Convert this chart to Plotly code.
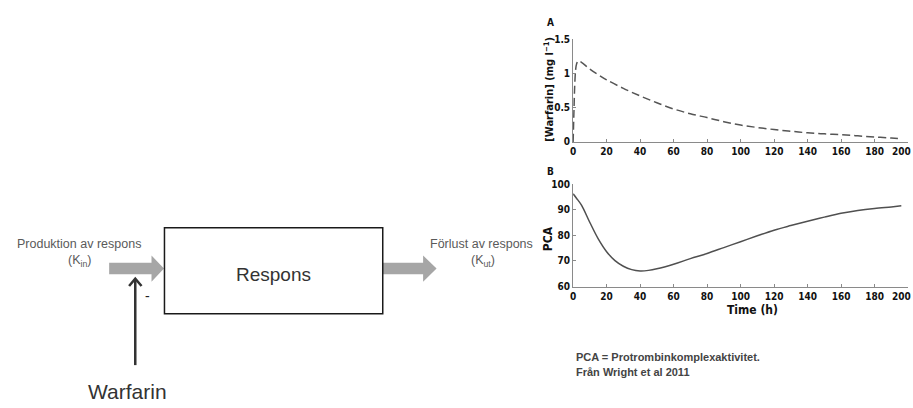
import plotly.graph_objects as go

W, H = 913, 408

# Panel A: plasma warfarin concentration (mg/l) over time (h)
t_a = [0, 0.5, 1, 1.5, 2, 3, 5, 10, 15, 20, 30, 40, 50, 60, 70, 80, 90, 100,
       110, 120, 130, 140, 150, 160, 170, 180, 190, 196]
conc_a = [0, 0.45, 0.85, 1.05, 1.13, 1.18, 1.16, 1.06, 0.98, 0.905, 0.78, 0.67,
          0.57, 0.48, 0.41, 0.354, 0.295, 0.245, 0.21, 0.18, 0.155, 0.132,
          0.117, 0.104, 0.088, 0.071, 0.056, 0.047]

# Panel B: prothrombin complex activity (PCA) over time (h)
t_b = [0, 2, 5, 10, 15, 20, 25, 30, 35, 40, 45, 50, 60, 70, 80, 90, 100, 110,
       120, 130, 140, 150, 160, 170, 180, 190, 196]
pca_b = [96.2, 94.5, 91.8, 85.0, 78.6, 73.6, 70.1, 67.9, 66.6, 66.1, 66.3,
         66.9, 68.7, 70.9, 72.9, 75.2, 77.5, 79.8, 82.0, 83.8, 85.5, 87.1,
         88.6, 89.7, 90.5, 91.1, 91.5]

x_ticks = [0, 20, 40, 60, 80, 100, 120, 140, 160, 180, 200]
ya_ticks = [0, 0.5, 1, 1.5]
ya_labels = ["0", "0.5", "1", "1.5"]
yb_ticks = [60, 70, 80, 90, 100]

AX_COLOR = "#8a8a8a"
PLOT_FONT = "DejaVu Sans Condensed, DejaVu Sans"
TICK_FONT = dict(family=PLOT_FONT, size=10, color="#111111", weight="bold")
DIAG_FONT = "Liberation Sans, Arial, sans-serif"


def px_x(v):
    """page pixel column -> paper x"""
    return v / W


def px_y(v):
    """page pixel row (from top) -> paper y"""
    return 1 - v / H


fig = go.Figure()

fig.add_trace(go.Scatter(
    x=t_a, y=conc_a, mode="lines", xaxis="x", yaxis="y",
    line=dict(color="#555555", width=1.5, dash="8px,4px", shape="spline"),
    showlegend=False, hoverinfo="skip"))

fig.add_trace(go.Scatter(
    x=t_b, y=pca_b, mode="lines", xaxis="x2", yaxis="y2",
    line=dict(color="#505050", width=1.5, shape="spline"),
    showlegend=False, hoverinfo="skip"))

axis_common = dict(showline=True, linecolor=AX_COLOR, linewidth=1,
                   ticks="inside", ticklen=3, tickcolor=AX_COLOR,
                   showgrid=False, zeroline=False, tickfont=TICK_FONT,
                   fixedrange=True)

x_dom = [px_x(572), px_x(908)]

fig.update_layout(
    width=W, height=H,
    margin=dict(l=0, r=0, t=0, b=0),
    paper_bgcolor="white", plot_bgcolor="rgba(0,0,0,0)",
    xaxis=dict(domain=x_dom, anchor="y", range=[0, 200], tickvals=x_ticks,
               **axis_common),
    yaxis=dict(domain=[px_y(140), px_y(34)], anchor="x", range=[0, 1.5],
               tickvals=ya_ticks, ticktext=ya_labels, **axis_common),
    xaxis2=dict(domain=x_dom, anchor="y2", range=[0, 200], tickvals=x_ticks,
                **axis_common),
    yaxis2=dict(domain=[px_y(289), px_y(183.5)], anchor="x2", range=[60, 100],
                tickvals=yb_ticks, **axis_common),
)

GRAY_ARROW = "#a6a6a6"


def block_arrow(x0, x1, xtip, yc, body_h, head_h):
    pts = [(x0, yc - body_h / 2), (x1, yc - body_h / 2), (x1, yc - head_h / 2),
           (xtip, yc), (x1, yc + head_h / 2), (x1, yc + body_h / 2),
           (x0, yc + body_h / 2)]
    return "M " + " L ".join(f"{px_x(a):.5f},{px_y(b):.5f}" for a, b in pts) + " Z"


def polyline(pts):
    return "M " + " L ".join(f"{px_x(a):.5f},{px_y(b):.5f}" for a, b in pts)


shapes = [
    # inflow arrow (production)
    dict(type="path", path=block_arrow(106.5, 149, 161.5, 270.5, 12, 27),
         fillcolor=GRAY_ARROW, line=dict(width=0)),
    # outflow arrow (loss)
    dict(type="path", path=block_arrow(381, 421.5, 435, 270.5, 12, 27),
         fillcolor=GRAY_ARROW, line=dict(width=0)),
    # response compartment
    dict(type="rect", x0=px_x(162), x1=px_x(381), y0=px_y(228.5),
         y1=px_y(317), fillcolor="white",
         line=dict(color="#1a1a1a", width=1.5)),
    # inhibitory warfarin arrow
    dict(type="path", path=polyline([(132.7, 370), (132.7, 281)]),
         line=dict(color="#333333", width=2.5)),
    dict(type="path",
         path=polyline([(126.5, 288.5), (132.7, 281), (139, 288.5)]),
         line=dict(color="#333333", width=2.5)),
]
for s in shapes:
    s.update(xref="paper", yref="paper", layer="above")
fig.update_layout(shapes=shapes)

annotations = [
    dict(text="Produktion av respons", x=76.5, y=245, font=dict(
        family=DIAG_FONT, size=12.5, color="#5a5a5a")),
    dict(text="(K<sub>in</sub>)", x=77, y=263, font=dict(
        family=DIAG_FONT, size=12.5, color="#5a5a5a")),
    dict(text="Förlust av respons", x=480.5, y=245, font=dict(
        family=DIAG_FONT, size=12.5, color="#5a5a5a")),
    dict(text="(K<sub>ut</sub>)", x=481.5, y=263, font=dict(
        family=DIAG_FONT, size=12.5, color="#5a5a5a")),
    dict(text="Respons", x=271.5, y=277, font=dict(
        family=DIAG_FONT, size=19, color="#333333")),
    dict(text="-", x=145, y=299, font=dict(
        family=DIAG_FONT, size=14, color="#222222")),
    dict(text="Warfarin", x=124.5, y=397, font=dict(
        family=DIAG_FONT, size=21, color="#333333")),
    # panel letters and axis titles
    dict(text="A", x=549, y=17, font=dict(
        family=PLOT_FONT, size=10, color="#111111", weight="bold")),
    dict(text="B", x=549, y=170, font=dict(
        family=PLOT_FONT, size=10, color="#111111", weight="bold")),
    dict(text="[Warfarin] (mg l<sup>−1</sup>)", x=548, y=86, textangle=-90,
         font=dict(family=PLOT_FONT, size=11, color="#111111",
                   weight="bold")),
    dict(text="PCA", x=547, y=240, textangle=-90,
         font=dict(family=PLOT_FONT, size=12, color="#111111",
                   weight="bold")),
    dict(text="Time (h)", x=752, y=313,
         font=dict(family=PLOT_FONT, size=12, color="#111111",
                   weight="bold")),
    # last x tick label, pinned inside the right page edge
    dict(text=str(x_ticks[-1]), x=913, y=150, xanchor="right",
         font=TICK_FONT),
    dict(text=str(x_ticks[-1]), x=913, y=299.5, xanchor="right",
         font=TICK_FONT),
    # caption
    dict(text="PCA = Protrombinkomplexaktivitet.", x=572.5, y=362,
         xanchor="left", font=dict(family=DIAG_FONT, size=11,
                                   color="#444444", weight="bold")),
    dict(text="Från Wright et al 2011", x=572.5, y=377,
         xanchor="left", font=dict(family=DIAG_FONT, size=11,
                                   color="#444444", weight="bold")),
]
for a in annotations:
    a.setdefault("xanchor", "center")
    a.update(x=px_x(a["x"]), y=px_y(a["y"]), xref="paper", yref="paper",
             showarrow=False, yanchor="middle")
fig.update_layout(annotations=annotations)

fig.write_html("out.html")
